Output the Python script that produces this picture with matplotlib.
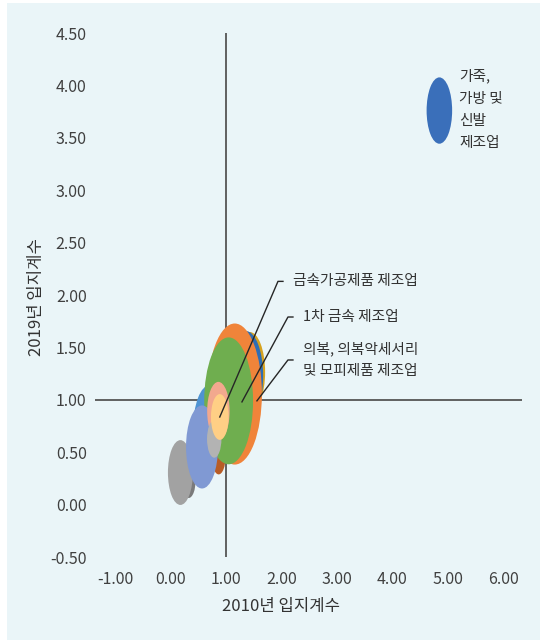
import matplotlib
matplotlib.use("Agg")
import matplotlib.pyplot as plt
from matplotlib.patches import Ellipse, Rectangle
import numpy as np

plt.rcParams['font.family'] = ['Noto Sans CJK KR', 'DejaVu Sans']
plt.rcParams['axes.unicode_minus'] = False

# 업종별 입지계수 (2010년, 2019년)와 버블 크기, 그리는 순서대로
lq_2010 = [1.43, 1.36, 1.16, 0.71, 0.87, 1.05, 0.33, 0.18, 0.57, 0.865, 0.79, 0.89, 4.85]
lq_2019 = [1.265, 1.227, 1.055, 0.73, 0.46, 0.99, 0.235, 0.306, 0.55, 0.893, 0.626, 0.836, 3.76]
bubble = [64, 81, 199, 74, 13, 161, 13, 42, 69, 34, 14, 21, 44]
colors = ['#d6a21f', '#2e6db4', '#f0843a', '#4e93d2', '#b85c26', '#6fae4f', '#7a7a7a',
          '#a2a2a2', '#8099d3', '#f2a88e', '#b3b3b3', '#ffcf85', '#3a6fba']

# 라벨: (버블 번호, 텍스트, 텍스트 위치, 지시선 끝점)
labels = [
    (11, '금속가공제품 제조업', (2.21, 2.13), None),
    (5, '1차 금속 제조업', (2.39, 1.79), (1.29, 0.98)),
    (2, '의복, 의복악세서리\n및 모피제품 제조업', (2.39, 1.38), (1.56, 0.99)),
]
leather_label = '가죽,\n가방 및\n신발\n제조업'
leather_pos = (5.21, 3.77)

x_ticks = [-1, 0, 1, 2, 3, 4, 5, 6]
y_ticks = [-0.5, 0, 0.5, 1, 1.5, 2, 2.5, 3, 3.5, 4, 4.5]

W, H = 540, 642
fig = plt.figure(figsize=(W / 100, H / 100), dpi=100)
fig.patch.set_facecolor('white')
fig.patches.append(Rectangle((7 / W, 2 / H), 533 / W, 637 / H, transform=fig.transFigure,
                             facecolor='#eaf5f8', edgecolor='none', zorder=-10))

ax = fig.add_axes([95 / W, 1 - 557 / H, 427 / W, 524 / H])
ax.set_facecolor('none')
ax.set_xlim(-1.36, 6.34)
ax.set_ylim(-0.5, 4.5)
for s in ax.spines.values():
    s.set_visible(False)

ax.axhline(1, color='#555555', lw=1.3, zorder=1)
ax.axvline(1, color='#555555', lw=1.3, zorder=1)

ax.set_xticks(x_ticks)
ax.set_xticklabels([f'{v:.2f}' for v in x_ticks])
ax.set_yticks(y_ticks)
ax.set_yticklabels([f'{v:.2f}' for v in y_ticks])
ax.tick_params(axis='both', length=0, labelsize=11.5, labelcolor='#404040')
ax.tick_params(axis='x', pad=10)
ax.tick_params(axis='y', pad=6)

# 버블: 높이는 크기의 제곱근에 비례, 가로는 세로의 0.385배 (픽셀 기준)
bb = ax.get_window_extent()
px_x = bb.width / (ax.get_xlim()[1] - ax.get_xlim()[0])
px_y = bb.height / (ax.get_ylim()[1] - ax.get_ylim()[0])
for i, (x, y, s, c) in enumerate(zip(lq_2010, lq_2019, bubble, colors)):
    h_px = 10 * np.sqrt(s)
    w_px = 0.385 * h_px
    ax.add_patch(Ellipse((x, y), w_px / px_x, h_px / px_y, facecolor=c,
                         edgecolor='none', zorder=2 + i))

# 지시선과 라벨
for idx, text, (tx, ty), tip in labels:
    if tip is None:
        tip = (lq_2010[idx], lq_2019[idx])
    ex = tx - 15 / px_x
    hx = tx - 10 / px_x
    ax.plot([tip[0], ex, hx], [tip[1], ty, ty], color='#262626', lw=1.0, zorder=30)
    ax.text(tx, ty, text, ha='left', va='center', fontsize=10.6, color='#333333',
            linespacing=1.75, zorder=31)

ax.text(leather_pos[0], leather_pos[1], leather_label, ha='left', va='center',
        fontsize=10.6, color='#333333', linespacing=1.75, zorder=31)

fig.text(281 / W, 1 - 607 / H, '2010년 입지계수', ha='center', va='center',
         fontsize=12, color='#333333')
fig.text(37 / W, 1 - 297 / H, '2019년 입지계수', ha='center', va='center',
         fontsize=12, color='#333333', rotation=90)

fig.savefig('out.png', dpi=100)
